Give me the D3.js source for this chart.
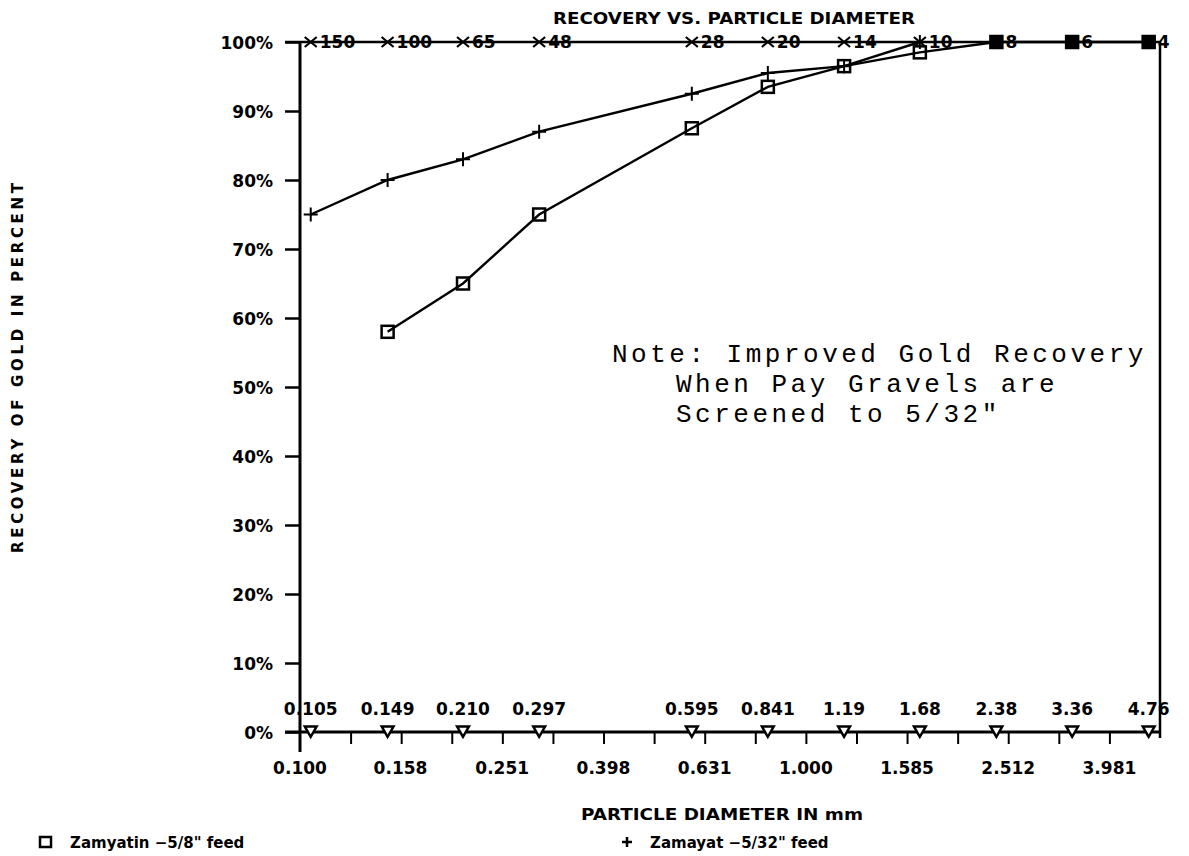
<!DOCTYPE html>
<html lang="en">
<head>
<meta charset="utf-8">
<title>Recovery vs. Particle Diameter</title>
<style>
  body { margin: 0; background: #fff; }
  svg { display: block; }
  .lbl { font-family: "DejaVu Sans", sans-serif; font-weight: bold; fill: #000; }
  .note { font-family: "Liberation Mono", monospace; fill: #000; }
</style>
</head>
<body>
<div id="container"></div>
<script src="https://cdnjs.cloudflare.com/ajax/libs/d3/7.8.5/d3.min.js"></script>
<script>
// sieve openings (mm), their labels and Tyler mesh numbers
var sieveMm = [0.105, 0.149, 0.210, 0.297, 0.595, 0.841, 1.19, 1.68, 2.38, 3.36, 4.76];
var sieveLabels = ["0.105", "0.149", "0.210", "0.297", "0.595", "0.841", "1.19", "1.68", "2.38", "3.36", "4.76"];
var meshLabels = ["150", "100", "65", "48", "28", "20", "14", "10", "8", "6", "4"];

// Zamyatin -5/8" feed (squares)
var zamyatinMm = [0.149, 0.210, 0.297, 0.595, 0.841, 1.19, 1.68, 2.38, 3.36, 4.76];
var zamyatinPct = [58, 65, 75, 87.5, 93.5, 96.5, 98.5, 100, 100, 100];

// Zamayat -5/32" feed (plus)
var zamayatMm = [0.105, 0.149, 0.210, 0.297, 0.595, 0.841, 1.19, 1.68];
var zamayatPct = [75, 80, 83, 87, 92.5, 95.5, 96.5, 100];

// axis ticks
var xLabelTicks = [0.100, 0.158, 0.251, 0.398, 0.631, 1.000, 1.585, 2.512, 3.981];
var xLabelText = ["0.100", "0.158", "0.251", "0.398", "0.631", "1.000", "1.585", "2.512", "3.981"];
var yTicks = [0, 10, 20, 30, 40, 50, 60, 70, 80, 90, 100];

var W = 1189, H = 856;
var svg = d3.select("#container").append("svg")
  .attr("width", W).attr("height", H);

var x = d3.scaleLog().domain([0.1, Math.pow(10, 0.7)]).range([300, 1160]);
var y = d3.scaleLinear().domain([0, 100]).range([732, 42]);

var ink = "#000";

// frame: top line at 100% and right border
svg.append("line").attr("x1", 285).attr("x2", x.range()[1]).attr("y1", y(100)).attr("y2", y(100))
  .attr("stroke", ink).attr("stroke-width", 2.5);
svg.append("line").attr("x1", x.range()[1]).attr("x2", x.range()[1]).attr("y1", y(100)).attr("y2", y(0) + 6)
  .attr("stroke", ink).attr("stroke-width", 2.5);

// y axis
var yAxis = d3.axisLeft(y).tickValues(yTicks).tickSize(15).tickFormat(function(d) { return d + "%"; });
var gy = svg.append("g").attr("transform", "translate(" + x.range()[0] + ",0)").call(yAxis);
gy.select(".domain").remove();
gy.selectAll(".tick line").attr("stroke", ink).attr("stroke-width", 2.5);
gy.selectAll(".tick text").attr("class", "lbl").attr("font-size", 17).attr("x", -27).attr("dy", "0.36em");
svg.append("line").attr("x1", x.range()[0]).attr("x2", x.range()[0]).attr("y1", y(100)).attr("y2", y(0) + 20)
  .attr("stroke", ink).attr("stroke-width", 3);

// x axis: minor ticks every 0.1 decade, labels every 0.2 decade
var minorTicks = d3.range(1, 17).map(function(k) { return Math.pow(10, -1 + k / 10); });
var xAxis = d3.axisBottom(x).tickValues(minorTicks).tickSize(12).tickFormat("");
var gx = svg.append("g").attr("transform", "translate(0," + y(0) + ")").call(xAxis);
gx.select(".domain").remove();
gx.selectAll(".tick line").attr("stroke", ink).attr("stroke-width", 2);
svg.append("line").attr("x1", 285).attr("x2", x.range()[1]).attr("y1", y(0)).attr("y2", y(0))
  .attr("stroke", ink).attr("stroke-width", 3);

svg.append("g").selectAll("text").data(xLabelTicks).join("text")
  .attr("class", "lbl").attr("font-size", 17).attr("text-anchor", "middle")
  .attr("x", function(d) { return x(d); }).attr("y", y(0) + 42)
  .text(function(d, i) { return xLabelText[i]; });

// sieve markers along 0%: triangles with size labels above
var tri = d3.symbol().type(d3.symbolTriangle).size(60);
svg.append("g").selectAll("path").data(sieveMm).join("path")
  .attr("d", tri)
  .attr("transform", function(d) { return "translate(" + x(d) + "," + (y(0) - 2) + ") rotate(180)"; })
  .attr("fill", "#fff").attr("stroke", ink).attr("stroke-width", 2.5);
svg.append("g").selectAll("text").data(sieveMm).join("text")
  .attr("class", "lbl").attr("font-size", 17).attr("text-anchor", "middle")
  .attr("x", function(d) { return x(d); }).attr("y", y(0) - 17)
  .text(function(d, i) { return sieveLabels[i]; });

// mesh markers along 100%: crosses with mesh numbers
svg.append("g").selectAll("path").data(sieveMm).join("path")
  .attr("d", "M-6,-5L6,5M-6,5L6,-5")
  .attr("transform", function(d) { return "translate(" + x(d) + "," + y(100) + ")"; })
  .attr("stroke", ink).attr("stroke-width", 2.2);
svg.append("g").selectAll("text").data(sieveMm).join("text")
  .attr("class", "lbl").attr("font-size", 17)
  .attr("x", function(d) { return x(d) + 9; }).attr("y", y(100) + 6)
  .text(function(d, i) { return meshLabels[i]; });

// series lines
var line = d3.line().x(function(d) { return x(d[0]); }).y(function(d) { return y(d[1]); });
var zamyatin = d3.zip(zamyatinMm, zamyatinPct);
var zamayat = d3.zip(zamayatMm, zamayatPct);

svg.append("path").datum(zamayat).attr("d", line)
  .attr("fill", "none").attr("stroke", ink).attr("stroke-width", 2.4);
svg.append("path").datum(zamyatin).attr("d", line)
  .attr("fill", "none").attr("stroke", ink).attr("stroke-width", 2.4);

svg.append("g").selectAll("path").data(zamayat).join("path")
  .attr("transform", function(d) { return "translate(" + x(d[0]) + "," + y(d[1]) + ")"; })
  .attr("fill", "none").attr("stroke", ink).attr("stroke-width", 2)
  .attr("d", "M-7,0H7M0,-7V7");

svg.append("g").selectAll("rect").data(zamyatin).join("rect")
  .attr("x", function(d) { return x(d[0]) - 6; }).attr("y", function(d) { return y(d[1]) - 6; })
  .attr("width", 12).attr("height", 12)
  .attr("fill", function(d) { return d[1] >= 100 ? ink : "none"; })
  .attr("stroke", ink).attr("stroke-width", 2.5);

// titles
svg.append("text").attr("class", "lbl").attr("font-size", 16)
  .attr("x", 734).attr("y", 24).attr("text-anchor", "middle")
  .attr("textLength", 362).attr("lengthAdjust", "spacingAndGlyphs")
  .text("RECOVERY VS. PARTICLE DIAMETER");
svg.append("text").attr("class", "lbl").attr("font-size", 16)
  .attr("x", 722).attr("y", 820).attr("text-anchor", "middle")
  .attr("textLength", 282).attr("lengthAdjust", "spacingAndGlyphs")
  .text("PARTICLE DIAMETER IN mm");
svg.append("text").attr("class", "lbl").attr("font-size", 15)
  .attr("transform", "translate(23,368) rotate(-90)").attr("text-anchor", "middle")
  .attr("textLength", 370).attr("lengthAdjust", "spacing")
  .text("RECOVERY OF GOLD IN PERCENT");

// note
var noteLines = ["Note: Improved Gold Recovery", "When Pay Gravels are", "Screened to 5/32\""];
var noteX = [612, 676, 676];
svg.append("g").selectAll("text").data(noteLines).join("text")
  .attr("class", "note").attr("font-size", 26).attr("letter-spacing", 3.5)
  .attr("x", function(d, i) { return noteX[i]; }).attr("y", function(d, i) { return 362 + i * 30; })
  .text(function(d) { return d; });

// legend
svg.append("rect").attr("x", 40).attr("y", 837).attr("width", 11).attr("height", 10)
  .attr("fill", "none").attr("stroke", ink).attr("stroke-width", 2.5);
svg.append("text").attr("class", "lbl").attr("font-size", 15).attr("x", 70).attr("y", 848)
  .text("Zamyatin \u22125/8\" feed");
svg.append("path").attr("d", "M622,842h10M627,837v10").attr("stroke", ink).attr("stroke-width", 2.5);
svg.append("text").attr("class", "lbl").attr("font-size", 15).attr("x", 650).attr("y", 848)
  .text("Zamayat \u22125/32\" feed");
</script>
</body>
</html>
